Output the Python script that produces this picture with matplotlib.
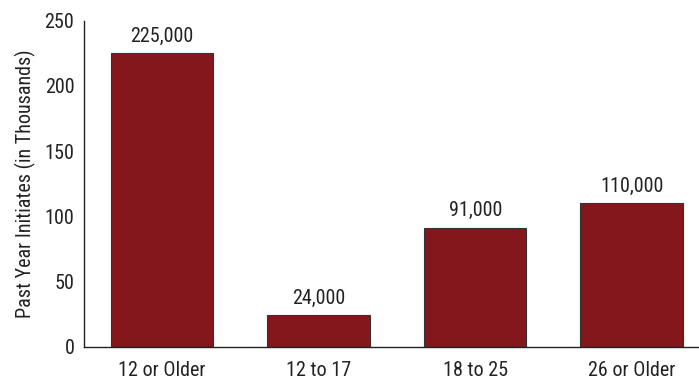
import matplotlib
matplotlib.use("Agg")
import matplotlib.pyplot as plt
from matplotlib import font_manager

categories = ["12 or Older", "12 to 17", "18 to 25", "26 or Older"]
initiates_thousands = [225, 24, 91, 110]
value_labels = ["225,000", "24,000", "91,000", "110,000"]

names = {f.name for f in font_manager.fontManager.ttflist}
family = [n for n in ["Liberation Sans Narrow", "Roboto Condensed", "DejaVu Sans"] if n in names]
plt.rcParams["font.family"] = family

fig = plt.figure(figsize=(6.99, 3.81), dpi=100)
ax = fig.add_axes([84 / 699, 0.09, 1 - 84 / 699, 0.9457 - 0.09])

x = range(len(categories))
bars = ax.bar(x, initiates_thousands, width=0.655, color="#84171B",
              edgecolor="#333333", linewidth=0.8)
for b, lab in zip(bars, value_labels):
    ax.text(b.get_x() + b.get_width() / 2, b.get_height() + 6, lab,
            ha="center", va="bottom", fontsize=14.5, color="#222222")

ax.set_xlim(-0.5, 3.43)
ax.set_ylim(0, 250)
ax.set_yticks([0, 50, 100, 150, 200, 250])
ax.set_xticks(list(x))
ax.set_xticklabels(categories)
ax.tick_params(axis="both", length=0, labelsize=14.5, colors="#222222")
ax.tick_params(axis="x", pad=10)
ax.tick_params(axis="y", pad=7)
ax.set_ylabel("Past Year Initiates (in Thousands)", fontsize=14.5, color="#222222", labelpad=6)
for s in ["top", "right"]:
    ax.spines[s].set_visible(False)
for s in ["left", "bottom"]:
    ax.spines[s].set_color("#222222")
    ax.spines[s].set_linewidth(1.0)

fig.savefig("out.png", dpi=100)
